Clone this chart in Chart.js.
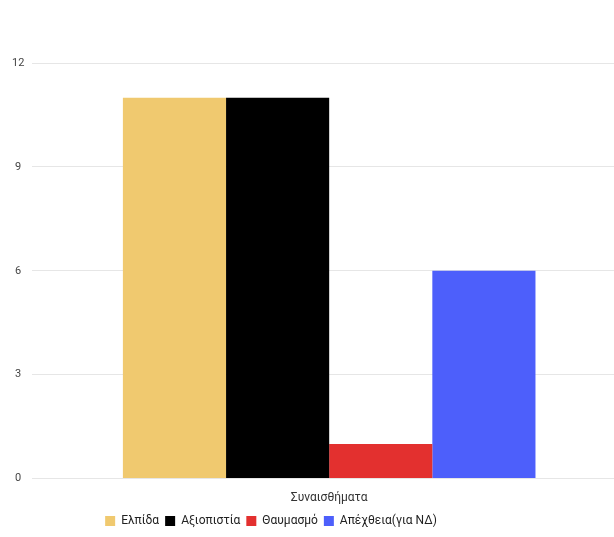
<!DOCTYPE html>
<html>
<head>
<meta charset="utf-8">
<script src="https://cdn.jsdelivr.net/npm/chart.js@4"></script>
<style>
  html, body { margin: 0; padding: 0; background: #fff; overflow: hidden; }
  #wrap { width: 626px; height: 537px; }
</style>
</head>
<body>
<div id="wrap"><canvas id="myChart"></canvas></div>
<script>
var categories = ["Συναισθήματα"];
var seriesNames = ["Ελπίδα", "Αξιοπιστία", "Θαυμασμό", "Απέχθεια(για ΝΔ)"];
var seriesValues = [[11], [11], [1], [6]];
var seriesColors = ["#f0c96f", "#000000", "#e3302f", "#4d5ffb"];
var yTicks = [0, 3, 6, 9, 12];

// shift the legend so it sits where the original put it
var legendShift = {
  id: "legendShift",
  afterLayout: function(chart) {
    var lg = chart.legend;
    var dx = 271 - (lg.left + lg.right) / 2;
    lg.left += dx;
    lg.right += dx;
  }
};

var ctx = document.getElementById("myChart").getContext("2d");
var myChart = new Chart(ctx, {
  type: "bar",
  data: {
    labels: categories,
    datasets: seriesNames.map(function(name, i) {
      return {
        label: name,
        data: seriesValues[i],
        backgroundColor: seriesColors[i],
        borderWidth: 0,
        categoryPercentage: 0.695,
        barPercentage: 1.0
      };
    })
  },
  options: {
    responsive: true,
    maintainAspectRatio: false,
    animation: false,
    layout: { padding: { top: 63, left: 4, right: 0, bottom: 0 } },
    plugins: {
      legend: {
        position: "bottom",
        labels: {
          boxWidth: 10,
          boxHeight: 10,
          padding: 6,
          color: "#222",
          font: { family: "Roboto", size: 12 }
        }
      },
      tooltip: { enabled: false }
    },
    scales: {
      x: {
        grid: { display: false },
        border: { display: false },
        ticks: { color: "#333", font: { family: "Roboto", size: 12 }, padding: 4 }
      },
      y: {
        min: 0,
        max: 12,
        afterBuildTicks: function(axis) {
          axis.ticks = yTicks.map(function(v) { return { value: v }; });
        },
        grid: { color: "#e6e6e6", drawTicks: false },
        border: { display: false },
        ticks: {
          color: "#444",
          crossAlign: "center",
          padding: 8,
          font: { family: "Roboto", size: 11 }
        }
      }
    }
  },
  plugins: [legendShift]
});
</script>
</body>
</html>
